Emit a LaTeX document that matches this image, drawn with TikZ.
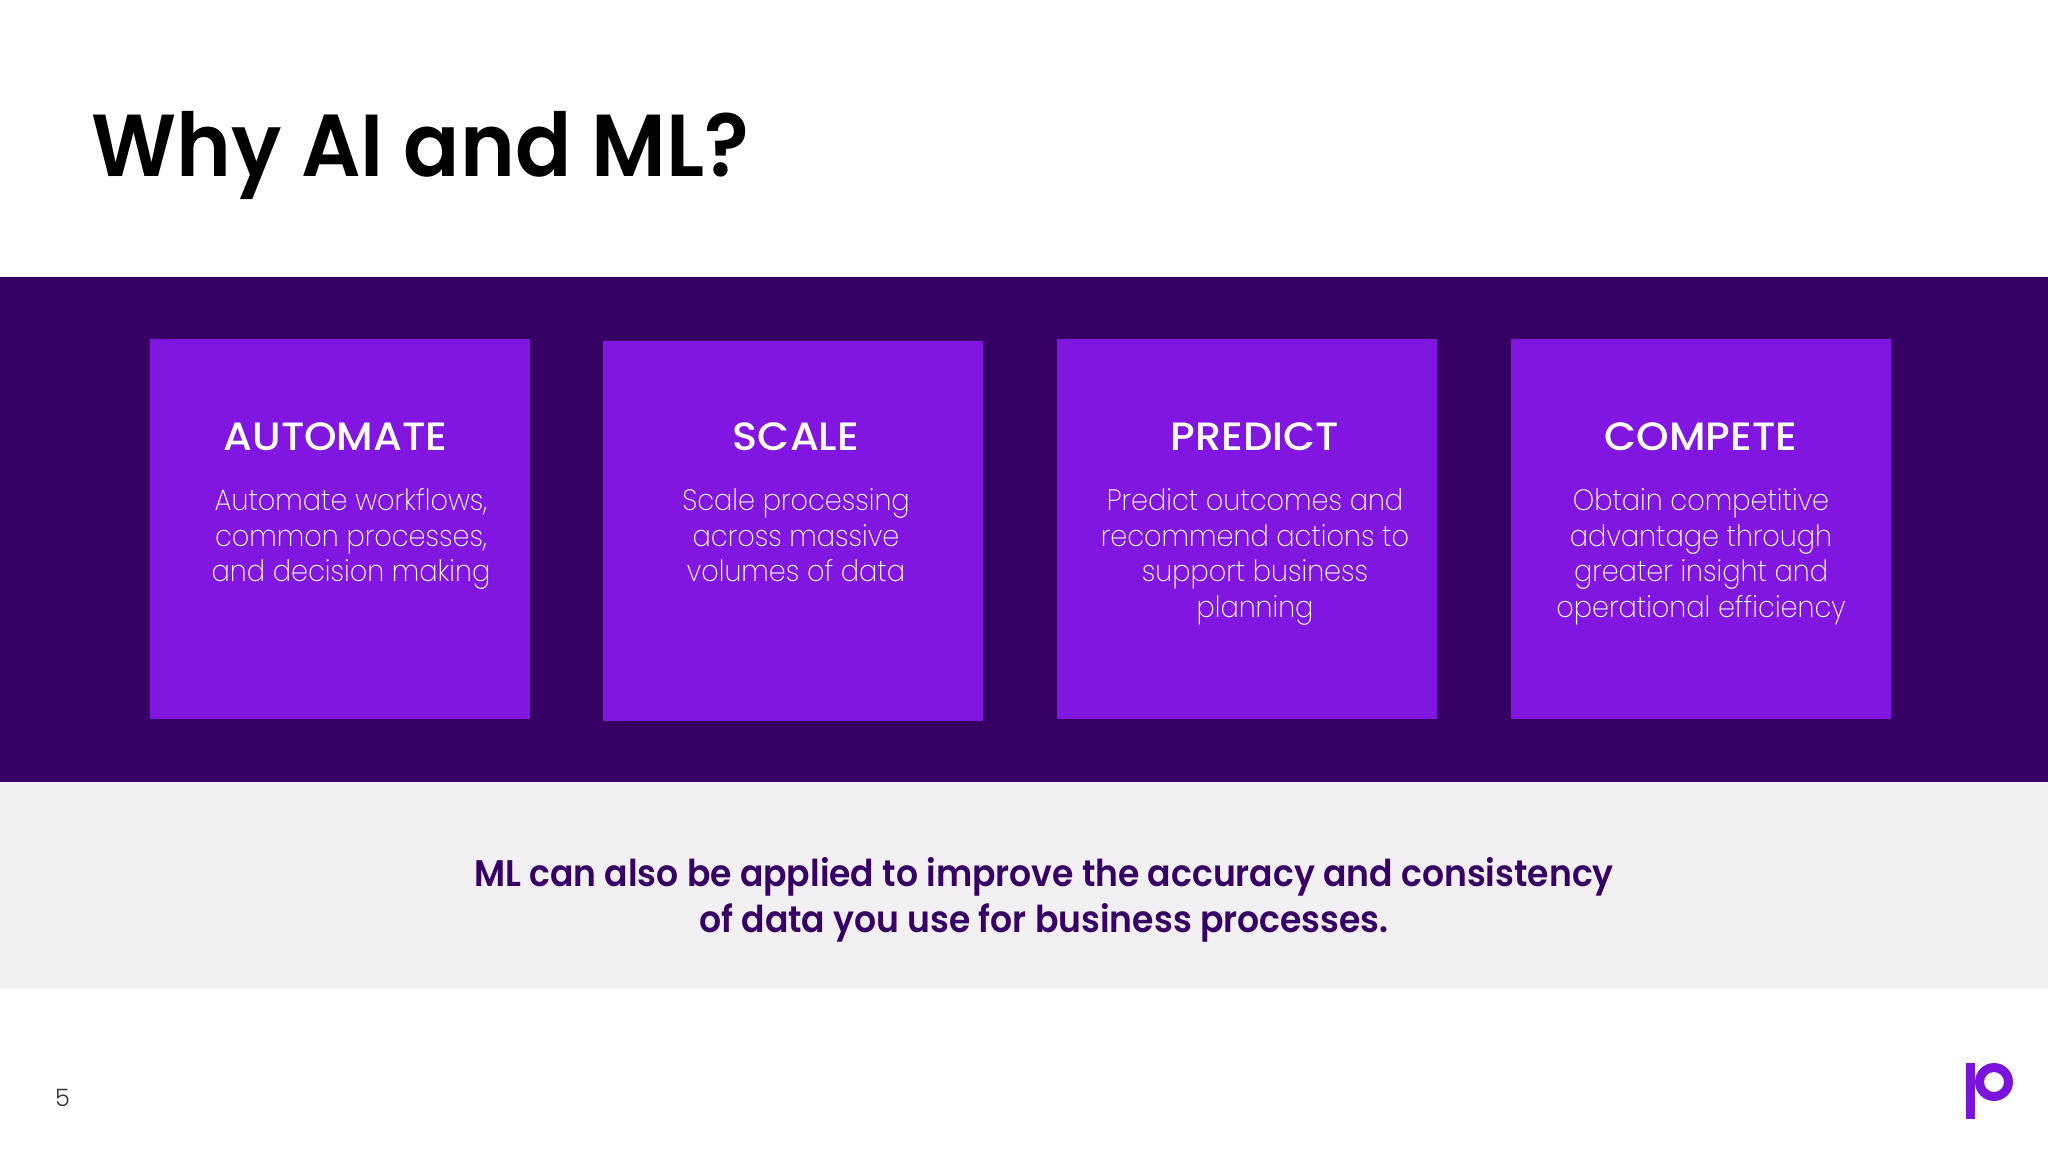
\documentclass[tikz,border=0pt]{standalone}
\usepackage{fontspec}
\setmainfont{Poppins}
\newfontfamily\bodyfont[FakeStretch=0.92]{Poppins ExtraLight}
\newfontfamily\pagefont{Poppins Light}
\newfontfamily\headfont[FakeStretch=1.05]{Poppins Medium}
\newfontfamily\notefont[FakeStretch=0.935]{Poppins SemiBold}
\newfontfamily\titlefont[FakeStretch=0.945]{Poppins SemiBold}
\definecolor{bandcol}{HTML}{370065}
\definecolor{boxcol}{HTML}{8016E0}
\definecolor{graycol}{HTML}{F2F0F3}
\definecolor{logocol}{HTML}{7A14DC}
\tikzset{
 cardbox/.style={fill=boxcol,draw=none,minimum width=380,minimum height=380,inner sep=0,anchor=north west},
 cardhead/.style={text=white,font=\headfont\fontsize{39.5}{39.5}\selectfont,anchor=base,inner sep=0},
 cardbody/.style={text=white,font=\bodyfont\fontsize{29.5}{35.7}\selectfont,align=center,anchor=base,inner sep=0},
 notetext/.style={anchor=base,inner sep=0,text=bandcol,font=\notefont\fontsize{37}{46}\selectfont},
 strip/.style={draw=none}
}
\begin{document}
\begin{tikzpicture}[x=1pt,y=-1pt]
\useasboundingbox (0,0) rectangle (2048,1152);
\fill[white] (0,0) rectangle (2048,1152);
\fill[bandcol,strip] (0,277) rectangle (2048,782);
\fill[graycol,strip] (0,782) rectangle (2048,989);
\node[anchor=base west,inner sep=0,font=\titlefont\fontsize{88}{88}\selectfont] (title) at (91,176) {Why AI and ML?};
\node[cardbox] (c1) at (150,339) {};
\node[cardbox] (c2) at (603,340.5) {};
\node[cardbox] (c3) at (1057,339) {};
\node[cardbox] (c4) at (1511,339) {};
\node[cardhead] (h1) at (335.5,450) {AUTOMATE};
\node[cardhead] (h2) at (796,450) {SCALE};
\node[cardhead] (h3) at (1255,450) {PREDICT};
\node[cardhead] (h4) at (1701,450) {COMPETE};
\node[cardbody] (b1) at (351,510) {Automate workflows,};
\node[cardbody] (b1b) at (351,546) {common processes,};
\node[cardbody] (b1c) at (351,581) {and decision making};
\node[cardbody] (b2) at (796,510) {Scale processing};
\node[cardbody] (b2b) at (796,546) {across massive};
\node[cardbody] (b2c) at (796,581) {volumes of data};
\node[cardbody] (b3) at (1255,510) {Predict outcomes and};
\node[cardbody] (b3b) at (1255,546) {recommend actions to};
\node[cardbody] (b3c) at (1255,581) {support business};
\node[cardbody] (b3d) at (1255,617) {planning};
\node[cardbody] (b4) at (1701,510) {Obtain competitive};
\node[cardbody] (b4b) at (1701,546) {advantage through};
\node[cardbody] (b4c) at (1701,581) {greater insight and};
\node[cardbody] (b4d) at (1701,617) {operational efficiency};
\node[notetext] (n1) at (1044,886) {ML can also be applied to improve the accuracy and consistency};
\node[notetext] (n2) at (1044,932) {of data you use for business processes.};
\node[anchor=base,inner sep=0,text=black!80,font=\pagefont\fontsize{24}{24}\selectfont] (pg) at (62.5,1106) {5};
\fill[logocol,even odd rule] (1994,1082) circle (19) (1994,1082) circle (10);
\fill[logocol] (1966,1063) rectangle (1975,1119);
\end{tikzpicture}
\end{document}
